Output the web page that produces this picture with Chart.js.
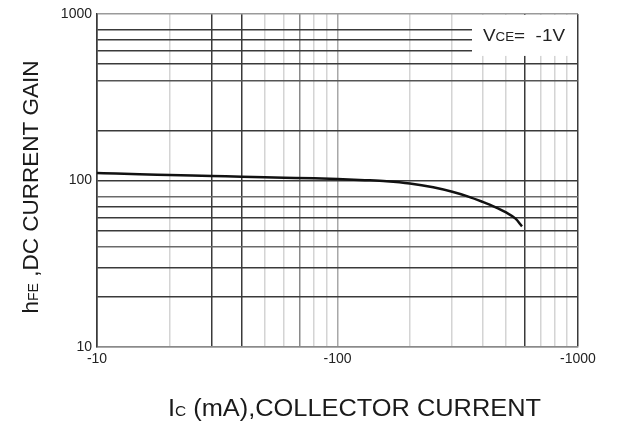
<!DOCTYPE html>
<html>
<head>
<meta charset="utf-8">
<script src="https://cdn.jsdelivr.net/npm/chart.js@4/dist/chart.umd.min.js"></script>
<style>
  html, body { margin: 0; padding: 0; background: #ffffff; }
  #wrap { width: 617px; height: 423px; position: relative; }
</style>
</head>
<body>
<div id="wrap"><canvas id="c" width="617" height="423"></canvas></div>
<script>
// Collector current (mA) and DC current gain
const collectorCurrent = [-10, -12, -15, -20, -30, -40, -60, -80, -100, -130, -160, -200, -250, -300, -350, -400, -450, -500, -550, -585];
const dcGain = [111, 110, 109, 108, 106.5, 105.5, 104, 103, 102, 100.5, 99, 96, 91, 85.5, 80, 74.5, 69.5, 64.5, 59, 53];

const xTickLabels = ['-10', '-100', '-1000'];
const yTickLabels = ['10', '100', '1000'];
const xRange = [10, 1000];
const yRange = [10, 1000];

const yTitleParts = [['h', 'main'], ['FE', 'sub'], [' ,DC CURRENT GAIN', 'main']];
const xTitleParts = [['I', 'main'], ['C', 'sub'], [' (mA),COLLECTOR CURRENT', 'main']];
const legendParts = [['V', 'main'], ['CE', 'sub'], ['=  -1V', 'main']];

const FONT = '"Liberation Sans", Arial, Helvetica, sans-serif';

function isDecade(v) {
  const l = Math.log10(v);
  return Math.abs(l - Math.round(l)) < 1e-6;
}
function isWholeStep(v) {
  const e = Math.floor(Math.log10(v) + 1e-9);
  const s = v / Math.pow(10, e);
  return Math.abs(s - Math.round(s)) < 1e-6;
}
function near(v, t) { return Math.abs(v - t) / t < 1e-6; }

// grid styling for vertical lines (x scale)
function xGridColor(v) {
  if (!isWholeStep(v)) return 'rgba(0,0,0,0)';
  if (near(v, 1000) || near(v, 10)) return '#3a3a3a';
  if (near(v, 30) || near(v, 40) || near(v, 600)) return '#3a3a3a';
  if (near(v, 70)) return '#8a8a8a';
  if (near(v, 100)) return '#a8a8a8';
  return '#d4d4d4';
}
// grid styling for horizontal lines (y scale)
function yGridColor(v) {
  if (!isWholeStep(v)) return 'rgba(0,0,0,0)';
  if (near(v, 90) || near(v, 300) || near(v, 900)) return 'rgba(0,0,0,0)';
  if (near(v, 1000) || near(v, 10)) return '#9a9a9a';
  if (near(v, 80) || near(v, 40)) return '#6a6a6a';
  if (near(v, 400)) return '#555555';
  return '#3a3a3a';
}

function measureParts(ctx, parts, mainSize, subSize) {
  let w = 0;
  parts.forEach(p => {
    ctx.font = (p[1] === 'sub' ? subSize : mainSize) + 'px ' + FONT;
    w += ctx.measureText(p[0]).width;
  });
  return w;
}
function renderParts(ctx, parts, x, y, mainSize, subSize, subDrop) {
  let cx = x;
  parts.forEach(p => {
    ctx.font = (p[1] === 'sub' ? subSize : mainSize) + 'px ' + FONT;
    ctx.fillText(p[0], cx, y + (p[1] === 'sub' ? subDrop : 0));
    cx += ctx.measureText(p[0]).width;
  });
}

const annotatePlugin = {
  id: 'annotate',
  beforeDatasetsDraw(chart) {
    const ctx = chart.ctx;
    const a = chart.chartArea;
    const y = chart.scales.y;
    // white label box covering the grid in the top-right corner
    const bx = 472, bTop = a.top + 1, bBottom = y.getPixelForValue(560);
    ctx.save();
    ctx.fillStyle = '#ffffff';
    ctx.fillRect(bx, bTop, a.right - bx - 1, bBottom - bTop);
    ctx.fillStyle = '#222222';
    ctx.textBaseline = 'alphabetic';
    ctx.textAlign = 'left';
    const wl = measureParts(ctx, legendParts, 17, 12);
    ctx.translate(483, 41);
    ctx.scale(82 / wl, 1);
    renderParts(ctx, legendParts, 0, 0, 17, 12, 0);
    ctx.restore();
  },
  afterDraw(chart) {
    const ctx = chart.ctx;
    ctx.save();
    ctx.fillStyle = '#1a1a1a';
    ctx.textBaseline = 'alphabetic';
    ctx.textAlign = 'left';
    // x title, stretched slightly to the reference width
    const wx = measureParts(ctx, xTitleParts, 23, 14);
    ctx.translate(168, 416);
    ctx.scale(373 / wx, 1);
    renderParts(ctx, xTitleParts, 0, 0, 23, 14, 0);
    ctx.restore();
    // y title (rotated)
    ctx.save();
    ctx.fillStyle = '#1a1a1a';
    ctx.translate(38, 187);
    ctx.rotate(-Math.PI / 2);
    const wy = measureParts(ctx, yTitleParts, 22.5, 14);
    renderParts(ctx, yTitleParts, -wy / 2, 0, 22.5, 14, 0);
    ctx.restore();
  }
};

const points = collectorCurrent.map((ic, i) => ({ x: Math.abs(ic), y: dcGain[i] }));

new Chart(document.getElementById('c'), {
  type: 'line',
  data: {
    datasets: [{
      data: points,
      borderColor: '#111111',
      borderWidth: 2.5,
      pointRadius: 0,
      fill: false,
      cubicInterpolationMode: 'monotone'
    }]
  },
  options: {
    responsive: false,
    animation: false,
    events: [],
    layout: { padding: { left: 0, right: 39, top: 14, bottom: 0 } },
    plugins: { legend: { display: false }, tooltip: { enabled: false }, title: { display: false } },
    scales: {
      x: {
        type: 'logarithmic',
        min: xRange[0],
        max: xRange[1],
        afterFit(s) { s.height = 76; },
        border: { display: true, color: '#8a8a8a', width: 1.5 },
        grid: {
          drawTicks: false,
          lineWidth: 1.5,
          color: c => xGridColor(c.tick.value)
        },
        ticks: {
          autoSkip: false,
          maxRotation: 0,
          padding: 4,
          color: '#222222',
          font: { family: FONT, size: 14 },
          callback: v => {
            if (!isDecade(v)) return '';
            const i = Math.round(Math.log10(v)) - 1;
            return xTickLabels[i] !== undefined ? xTickLabels[i] : '';
          }
        }
      },
      y: {
        type: 'logarithmic',
        min: yRange[0],
        max: yRange[1],
        afterFit(s) { s.width = 97; },
        border: { display: true, color: '#3a3a3a', width: 1.5 },
        grid: {
          drawTicks: false,
          lineWidth: 1.5,
          color: c => yGridColor(c.tick.value)
        },
        ticks: {
          autoSkip: false,
          padding: 5,
          color: '#222222',
          font: { family: FONT, size: 14 },
          callback: v => {
            if (!isDecade(v)) return '';
            const i = Math.round(Math.log10(v)) - 1;
            return yTickLabels[i] !== undefined ? yTickLabels[i] : '';
          }
        }
      }
    }
  },
  plugins: [annotatePlugin]
});
</script>
</body>
</html>
